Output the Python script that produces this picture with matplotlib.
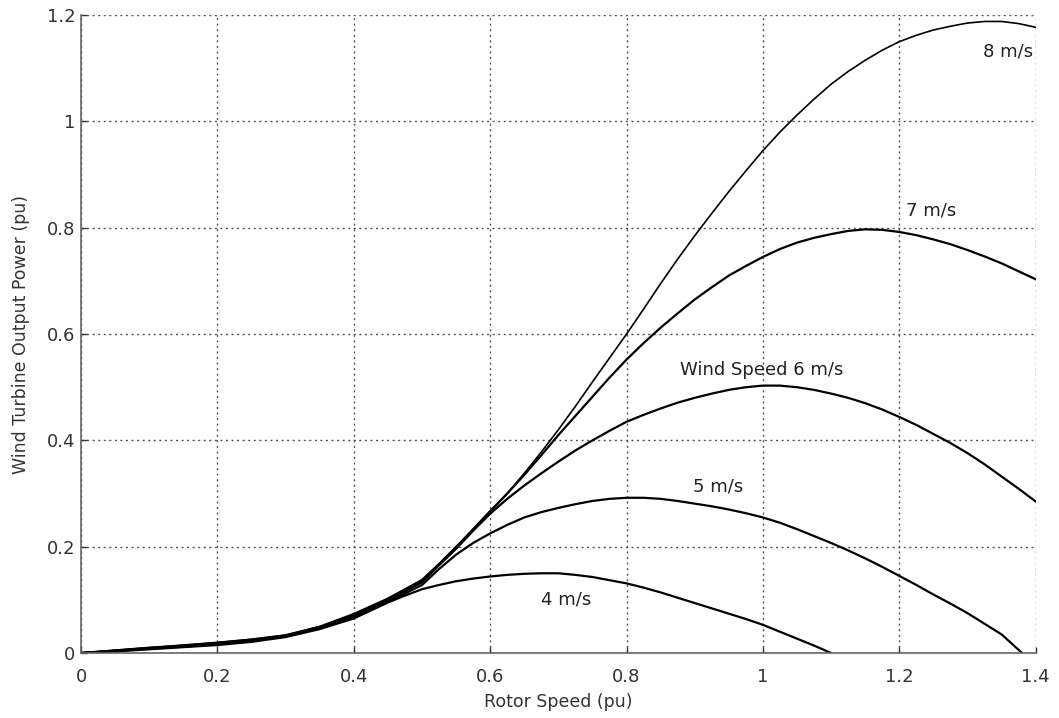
import matplotlib
matplotlib.use("Agg")
import matplotlib.pyplot as plt

# Rotor speed (pu) sample points
x_low = [0.0, 0.05, 0.1, 0.15, 0.2, 0.25, 0.3, 0.35, 0.4, 0.45]
x_high = [0.5, 0.525, 0.55, 0.575, 0.6, 0.625, 0.65, 0.675, 0.7, 0.725, 0.75, 0.775,
          0.8, 0.825, 0.85, 0.875, 0.9, 0.925, 0.95, 0.975, 1.0, 1.025, 1.05, 1.075,
          1.1, 1.125, 1.15, 1.175, 1.2, 1.225, 1.25, 1.275, 1.3, 1.325, 1.35, 1.375, 1.4]

# Output power (pu) for each wind speed
p_8ms_low = [0.0, 0.005, 0.010, 0.015, 0.020, 0.026, 0.034, 0.050, 0.074, 0.103]
p_8ms_high = [0.138, 0.168, 0.200, 0.232, 0.265, 0.300, 0.338, 0.378, 0.420, 0.464, 0.510, 0.555,
              0.600, 0.647, 0.695, 0.741, 0.785, 0.827, 0.868, 0.907, 0.945, 0.980, 1.012, 1.042,
              1.070, 1.094, 1.115, 1.134, 1.150, 1.162, 1.172, 1.179, 1.185, 1.188, 1.188, 1.184, 1.177]

p_7ms_low = [0.0, 0.005, 0.010, 0.014, 0.019, 0.025, 0.033, 0.049, 0.072, 0.101]
p_7ms_high = [0.136, 0.167, 0.199, 0.233, 0.267, 0.300, 0.335, 0.372, 0.410, 0.446, 0.482, 0.518,
              0.552, 0.583, 0.612, 0.639, 0.665, 0.688, 0.710, 0.728, 0.745, 0.760, 0.772, 0.781,
              0.788, 0.794, 0.797, 0.796, 0.792, 0.786, 0.778, 0.769, 0.758, 0.746, 0.733, 0.718, 0.703]

p_6ms_low = [0.0, 0.004, 0.009, 0.013, 0.018, 0.024, 0.032, 0.048, 0.070, 0.099]
p_6ms_high = [0.133, 0.165, 0.196, 0.230, 0.262, 0.290, 0.315, 0.338, 0.360, 0.381, 0.400, 0.418,
              0.435, 0.448, 0.460, 0.471, 0.480, 0.488, 0.495, 0.500, 0.503, 0.503, 0.500, 0.495,
              0.488, 0.480, 0.470, 0.458, 0.444, 0.429, 0.412, 0.395, 0.376, 0.355, 0.332, 0.309, 0.285]

x_5ms_high = [0.5, 0.525, 0.55, 0.575, 0.6, 0.625, 0.65, 0.675, 0.7, 0.725, 0.75, 0.775,
              0.8, 0.825, 0.85, 0.875, 0.9, 0.925, 0.95, 0.975, 1.0, 1.025, 1.05, 1.075,
              1.1, 1.125, 1.15, 1.175, 1.2, 1.225, 1.25, 1.275, 1.3, 1.325, 1.35, 1.38]
p_5ms_low = [0.0, 0.004, 0.008, 0.012, 0.017, 0.023, 0.031, 0.047, 0.068, 0.096]
p_5ms_high = [0.128, 0.158, 0.185, 0.207, 0.225, 0.241, 0.255, 0.265, 0.273, 0.280, 0.286, 0.290,
              0.292, 0.292, 0.290, 0.286, 0.281, 0.276, 0.270, 0.263, 0.255, 0.245, 0.233, 0.220,
              0.207, 0.193, 0.178, 0.162, 0.145, 0.128, 0.110, 0.093, 0.075, 0.055, 0.035, 0.0]

x_4ms_high = [0.475, 0.5, 0.525, 0.55, 0.575, 0.6, 0.625, 0.65, 0.675, 0.7, 0.725, 0.75, 0.775,
              0.8, 0.825, 0.85, 0.875, 0.9, 0.925, 0.95, 0.975, 1.0, 1.025, 1.05, 1.075, 1.1]
p_4ms_low = [0.0, 0.003, 0.007, 0.011, 0.015, 0.021, 0.030, 0.045, 0.065, 0.095]
p_4ms_high = [0.108, 0.120, 0.128, 0.135, 0.140, 0.144, 0.147, 0.149, 0.150, 0.150, 0.147, 0.143, 0.137,
              0.131, 0.123, 0.114, 0.104, 0.094, 0.084, 0.074, 0.064, 0.053, 0.040, 0.027, 0.014, 0.0]

labels = ["8 m/s", "7 m/s", "Wind Speed 6 m/s", "5 m/s", "4 m/s"]
label_pos = [(1.359, 1.131), (1.246, 0.832), (0.998, 0.532), (0.934, 0.314), (0.711, 0.100)]

x_ticks = [0, 0.2, 0.4, 0.6, 0.8, 1.0, 1.2, 1.4]
x_ticklabels = ["0", "0.2", "0.4", "0.6", "0.8", "1", "1.2", "1.4"]
y_ticks = [0, 0.2, 0.4, 0.6, 0.8, 1.0, 1.2]
y_ticklabels = ["0", "0.2", "0.4", "0.6", "0.8", "1", "1.2"]

fig = plt.figure(figsize=(10.59, 7.18), dpi=100)
ax = fig.add_axes([0.0765, 0.0905, 0.9015, 0.8885])

line_kw = dict(color="black", solid_joinstyle="round", solid_capstyle="round")
ax.plot(x_low + x_high, p_8ms_low + p_8ms_high, lw=1.2, **line_kw)
ax.plot(x_low + x_high, p_7ms_low + p_7ms_high, lw=1.6, **line_kw)
ax.plot(x_low + x_high, p_6ms_low + p_6ms_high, lw=1.6, **line_kw)
ax.plot(x_low + x_5ms_high, p_5ms_low + p_5ms_high, lw=1.6, **line_kw)
ax.plot(x_low + x_4ms_high, p_4ms_low + p_4ms_high, lw=1.6, **line_kw)

for txt, (tx, ty) in zip(labels, label_pos):
    ax.text(tx, ty, txt, ha="center", va="center", fontsize=13, color="#222222")

ax.set_xlim(0, 1.4)
ax.set_ylim(0, 1.2)
ax.set_xticks(x_ticks)
ax.set_xticklabels(x_ticklabels)
ax.set_yticks(y_ticks)
ax.set_yticklabels(y_ticklabels)
ax.tick_params(direction="in", length=4, labelsize=13, colors="#333333", width=1)
ax.tick_params(axis="x", pad=11)
ax.tick_params(axis="y", pad=4)
ax.grid(True, linestyle=(0, (1.5, 2.5)), color="#555555", linewidth=1)

for s in ["top", "right"]:
    ax.spines[s].set_visible(False)
for s in ["left", "bottom"]:
    ax.spines[s].set_color("#666666")
    ax.spines[s].set_linewidth(1.2)

ax.set_xlabel("Rotor Speed (pu)", fontsize=12.5, color="#333333", labelpad=5)
ax.set_ylabel("Wind Turbine Output Power (pu)", fontsize=12.5, color="#333333", labelpad=12)

fig.savefig("out.png", dpi=100)
